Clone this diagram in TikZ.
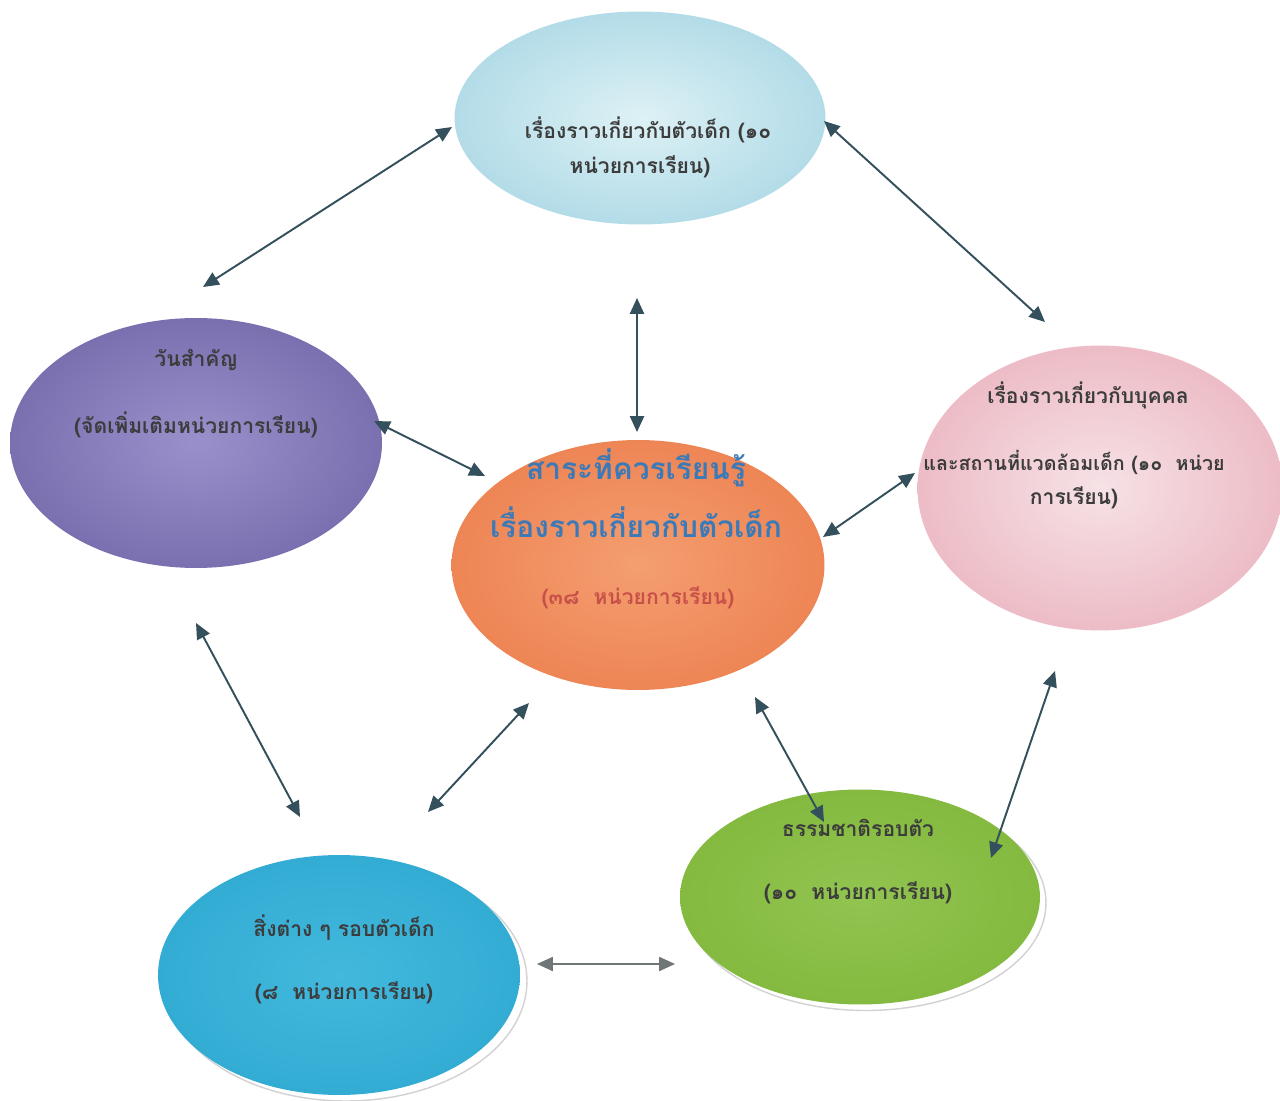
\documentclass[tikz,border=0pt]{standalone}
\usepackage{fontspec}
\newfontfamily\thaifont[Script=Thai]{Loma}
\usetikzlibrary{shapes.geometric,arrows.meta}
\definecolor{arrowc}{HTML}{34505C}
\definecolor{txtc}{HTML}{3C3C3C}
\definecolor{titlec}{HTML}{3A7AB8}
\definecolor{subc}{HTML}{C8504A}
\definecolor{topin}{HTML}{DDF1F5}
\definecolor{topout}{HTML}{B3DCE8}
\definecolor{purin}{HTML}{9990CB}
\definecolor{purout}{HTML}{7A70B0}
\definecolor{orin}{HTML}{F49E70}
\definecolor{orout}{HTML}{EE8555}
\definecolor{pkin}{HTML}{F6E2E6}
\definecolor{pkout}{HTML}{EDBCC6}
\definecolor{grin}{HTML}{92C450}
\definecolor{grout}{HTML}{84BA40}
\definecolor{blin}{HTML}{42B8DC}
\definecolor{blout}{HTML}{33ACD4}
\begin{document}
\begin{tikzpicture}[x=0.02cm,y=-0.02cm,
  bub/.style={ellipse, inner sep=0pt},
  shadowbub/.style={ellipse, inner sep=0pt, fill=white, draw=gray!35, line width=0.8pt},
  lbl/.style={font=\thaifont\bfseries\fontsize{12}{14}\selectfont, text=txtc, inner sep=0pt},
  big/.style={font=\thaifont\bfseries\fontsize{17}{20}\selectfont, text=titlec, inner sep=0pt},
  dbl/.style={draw=arrowc, line width=1.1pt, {Triangle[length=9pt,width=8pt]}-{Triangle[length=9pt,width=8pt]}}
]
\useasboundingbox[fill=white] (0,0) rectangle (1280,1101);

% shadows
\node[shadowbub, minimum width=7.24cm, minimum height=4.8cm] (Bs) at (346,981) {};
\node[shadowbub, minimum width=7.2cm, minimum height=4.3cm] (Gs) at (866,903) {};

% ellipses
\node[bub, minimum width=7.42cm, minimum height=4.26cm, inner color=topin, outer color=topout] (T) at (640,118) {};
\node[bub, minimum width=7.44cm, minimum height=5cm, inner color=purin, outer color=purout] (L) at (196,443) {};
\node[bub, minimum width=7.46cm, minimum height=5cm, inner color=orin, outer color=orout] (C) at (638,565) {};
\node[bub, minimum width=7.3cm, minimum height=5.7cm, inner color=pkin, outer color=pkout] (R) at (1100,488) {};
\node[bub, minimum width=7.2cm, minimum height=4.3cm, inner color=grin, outer color=grout] (G) at (860,897) {};
\node[bub, minimum width=7.24cm, minimum height=4.8cm, inner color=blin, outer color=blout] (B) at (339,975) {};

% texts
\node[lbl] (t1) at (648,130) {เรื่องราวเกี่ยวกับตัวเด็ก (๑๐};
\node[lbl] (t2) at (640,167) {หน่วยการเรียน)};
\node[lbl] (l1) at (196,360) {วันสำคัญ};
\node[lbl] (l2) at (196,425) {(จัดเพิ่มเติมหน่วยการเรียน)};
\node[big] (c1) at (636,468) {สาระที่ควรเรียนรู้};
\node[big] (c2) at (636,522) {เรื่องราวเกี่ยวกับตัวเด็ก};
\node[lbl, text=subc] (c3) at (638,598) {(๓๘\ \ หน่วยการเรียน)};
\node[lbl] (r1) at (1088,395) {เรื่องราวเกี่ยวกับบุคคล};
\node[lbl, font=\thaifont\bfseries\fontsize{11.2}{14}\selectfont] (r2) at (1074,462) {และสถานที่แวดล้อมเด็ก (๑๐\ \ หน่วย};
\node[lbl] (r3) at (1074,498) {การเรียน)};
\node[lbl] (g1) at (858,828) {ธรรมชาติรอบตัว};
\node[lbl] (g2) at (858,893) {(๑๐\ \ หน่วยการเรียน)};
\node[lbl] (b1) at (344,928) {สิ่งต่าง ๆ รอบตัวเด็ก};
\node[lbl] (b2) at (344,993) {(๘\ \ หน่วยการเรียน)};

% arrow end points
\coordinate (a1) at (203,287); \coordinate (a1b) at (452,127);
\coordinate (a2) at (824,121); \coordinate (a2b) at (1045,322);
\coordinate (a3) at (637,298); \coordinate (a3b) at (637,432);
\coordinate (a4) at (374,421); \coordinate (a4b) at (485,476);
\coordinate (a5) at (823,537); \coordinate (a5b) at (915,473);
\coordinate (a6) at (196,623); \coordinate (a6b) at (300,817);
\coordinate (a7) at (428,812); \coordinate (a7b) at (529,703);
\coordinate (a8) at (755,697); \coordinate (a8b) at (824,822);
\coordinate (a9) at (1055,671); \coordinate (a9b) at (991,858);
\coordinate (a10) at (537,964); \coordinate (a10b) at (675,964);

\draw[dbl] (a1) -- (a1b);
\draw[dbl] (a2) -- (a2b);
\draw[dbl] (a3) -- (a3b);
\draw[dbl] (a4) -- (a4b);
\draw[dbl] (a5) -- (a5b);
\draw[dbl] (a6) -- (a6b);
\draw[dbl] (a7) -- (a7b);
\draw[dbl] (a8) -- (a8b);
\draw[dbl] (a9) -- (a9b);
\draw[dbl, draw=gray!80!arrowc, line width=0.9pt] (a10) -- (a10b);
\end{tikzpicture}
\end{document}
